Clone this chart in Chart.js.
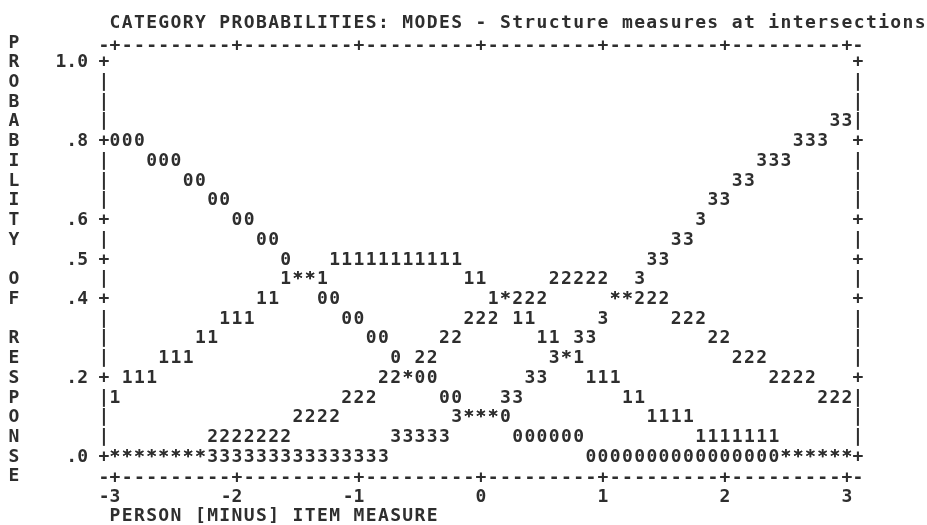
<!DOCTYPE html>
<html>
<head>
<meta charset="utf-8">
<script src="https://cdn.jsdelivr.net/npm/chart.js@4.4.0/dist/chart.umd.min.js"></script>
<style>
  html, body { margin: 0; padding: 0; background: #fff; }
  #wrap { width: 927px; height: 525px; }
</style>
</head>
<body>
<div id="wrap"><canvas id="plot" width="927" height="525"></canvas></div>
<script>
// one value per character column of the plot (columns are .1 logit apart)
const measures = [
  -3.0, -2.9, -2.8, -2.7, -2.6, -2.5, -2.4, -2.3, -2.2, -2.1,
  -2.0, -1.9, -1.8, -1.7, -1.6, -1.5, -1.4, -1.3, -1.2, -1.1,
  -1.0, -0.9, -0.8, -0.7, -0.6, -0.5, -0.4, -0.3, -0.2, -0.1,
   0.0,  0.1,  0.2,  0.3,  0.4,  0.5,  0.6,  0.7,  0.8,  0.9,
   1.0,  1.1,  1.2,  1.3,  1.4,  1.5,  1.6,  1.7,  1.8,  1.9,
   2.0,  2.1,  2.2,  2.3,  2.4,  2.5,  2.6,  2.7,  2.8,  2.9,
   3.0
];

const prob0 = [
  .80, .80, .80, .75, .75, .75, .70, .70, .65, .65,
  .60, .60, .55, .55, .50, .45, .45, .40, .40, .35,
  .35, .30, .30, .25, .20, .20, .20, .15, .15, .10,
  .10, .10, .10, .05, .05, .05, .05, .05, .05, 0,
  0, 0, 0, 0, 0, 0, 0, 0, 0, 0,
  0, 0, 0, 0, 0, 0, 0, 0, 0, 0,
  0
];
const prob1 = [
  .15, .20, .20, .20, .25, .25, .25, .30, .30, .35,
  .35, .35, .40, .40, .45, .45, .45, .45, .50, .50,
  .50, .50, .50, .50, .50, .50, .50, .50, .50, .45,
  .45, .40, .40, .35, .35, .30, .30, .25, .25, .20,
  .20, .20, .15, .15, .10, .10, .10, .10, .05, .05,
  .05, .05, .05, .05, .05, 0, 0, 0, 0, 0,
  0
];
const prob2 = [
  0, 0, 0, 0, 0, 0, 0, 0, .05, .05,
  .05, .05, .05, .05, .05, .10, .10, .10, .10, .15,
  .15, .15, .20, .20, .20, .25, .25, .30, .30, .35,
  .35, .35, .40, .40, .40, .40, .45, .45, .45, .45,
  .45, .40, .40, .40, .40, .40, .35, .35, .35, .30,
  .30, .25, .25, .25, .20, .20, .20, .20, .15, .15,
  .15
];
const prob3 = [
  0, 0, 0, 0, 0, 0, 0, 0, 0, 0,
  0, 0, 0, 0, 0, 0, 0, 0, 0, 0,
  0, 0, 0, .05, .05, .05, .05, .05, .10, .10,
  .10, .10, .15, .15, .20, .20, .25, .25, .30, .30,
  .35, .40, .40, .45, .50, .50, .55, .55, .60, .65,
  .65, .70, .70, .75, .75, .75, .80, .80, .80, .85,
  .85
];
const categories = ["0", "1", "2", "3"];

const xTicks = [-3, -2, -1, 0, 1, 2, 3];
const xTickLabels = ["-3 ", "-2 ", "-1 ", "0", "1", "2", "3"];
const yTicks = [1.0, 0.8, 0.6, 0.5, 0.4, 0.2, 0.0];
const yTickLabels = ["1.0", ".8", ".6", ".5", ".4", ".2", ".0"];

const titleText = "CATEGORY PROBABILITIES: MODES - Structure measures at intersections";
const xTitle = "PERSON [MINUS] ITEM MEASURE";
const yTitle = "PROBABILITY OF RESPONSE";

const INK = "#2e2e2e";
const MONO = { family: "'DejaVu Sans Mono'", size: 18, weight: "bold" };
const FONT = "bold 18px 'DejaVu Sans Mono'";
const CHAR_W = 12.2;
const ROW = 0.05;

const curves = [prob0, prob1, prob2, prob3];

// draws the curves and the frame as text, like the printed plot
const asciiPlot = {
  id: "asciiPlot",
  afterDatasetsDraw(chart) {
    const ctx = chart.ctx;
    const xs = chart.scales.x;
    const ys = chart.scales.y;
    const area = chart.chartArea;
    ctx.save();
    ctx.font = FONT;
    ctx.fillStyle = INK;
    ctx.textAlign = "center";
    ctx.textBaseline = "middle";

    // curves, "*" where two categories share a cell
    const sets = chart.data.datasets;
    sets.forEach((ds, d) => {
      const meta = chart.getDatasetMeta(d);
      meta.data.forEach((pt, i) => {
        const v = ds.data[i].y;
        const shared = sets.some((o, k) => k !== d && o.data[i].y === v);
        ctx.fillText(shared ? "*" : ds.label, pt.x, pt.y);
      });
    });

    // top and bottom rules
    const cols = [area.left].concat(measures.map(m => xs.getPixelForValue(m)), [area.right]);
    const colChar = [false].concat(measures.map(m => xTicks.some(t => Math.abs(t - m) < 1e-6)), [false]);
    cols.forEach((x, i) => {
      const ch = colChar[i] ? "+" : "-";
      ctx.fillText(ch, x, area.top);
      ctx.fillText(ch, x, area.bottom);
    });

    // left and right sides
    for (let r = 0; r <= 20; r++) {
      const v = +(1 - ROW * r).toFixed(2);
      const ch = yTicks.some(t => Math.abs(t - v) < 1e-6) ? "+" : "|";
      const y = ys.getPixelForValue(v);
      ctx.fillText(ch, area.left, y);
      ctx.fillText(ch, area.right, y);
    }

    // stacked y title
    for (let k = 0; k < yTitle.length; k++) {
      const y = ys.getPixelForValue(1 + ROW - ROW * k);
      ctx.fillText(yTitle[k], 14, y);
    }

    // plot title and x title, on the character grid
    const x0 = xs.getPixelForValue(-3);
    const yTop = ys.getPixelForValue(1 + 2 * ROW);
    for (let k = 0; k < titleText.length; k++) {
      ctx.fillText(titleText[k], x0 + CHAR_W * k, yTop);
    }
    const yBot = ys.getPixelForValue(-3 * ROW);
    for (let k = 0; k < xTitle.length; k++) {
      ctx.fillText(xTitle[k], x0 + CHAR_W * k, yBot);
    }
    ctx.restore();
  }
};

new Chart(document.getElementById("plot"), {
  type: "scatter",
  data: {
    datasets: categories.map((c, i) => ({
      label: c,
      data: measures.map((m, j) => ({ x: m, y: curves[i][j] })),
      pointRadius: 0,
      pointHoverRadius: 0,
      showLine: false
    }))
  },
  options: {
    responsive: false,
    animation: false,
    devicePixelRatio: 1,
    layout: { padding: { top: 46, right: 69, bottom: 0, left: 0 } },
    plugins: { legend: { display: false }, tooltip: { enabled: false }, title: { display: false } },
    scales: {
      x: {
        type: "linear",
        min: -3.09,
        max: 3.09,
        grid: { display: false, drawTicks: false, tickLength: 0 },
        border: { display: false },
        afterBuildTicks: s => { s.ticks = xTicks.map(v => ({ value: v })); },
        afterFit: s => { s.height = 47; },
        ticks: {
          autoSkip: false,
          maxRotation: 0,
          padding: 9,
          color: INK,
          font: MONO,
          callback: v => xTickLabels[xTicks.indexOf(v)]
        }
      },
      y: {
        type: "linear",
        min: -0.053,
        max: 1.042,
        grid: { display: false, drawTicks: false, tickLength: 0 },
        border: { display: false },
        afterBuildTicks: s => { s.ticks = yTicks.map(v => ({ value: v })); },
        afterFit: s => { s.width = 104; },
        ticks: {
          padding: 16,
          color: INK,
          font: MONO,
          callback: v => yTickLabels[yTicks.indexOf(v)]
        }
      }
    }
  },
  plugins: [asciiPlot]
});
</script>
</body>
</html>
